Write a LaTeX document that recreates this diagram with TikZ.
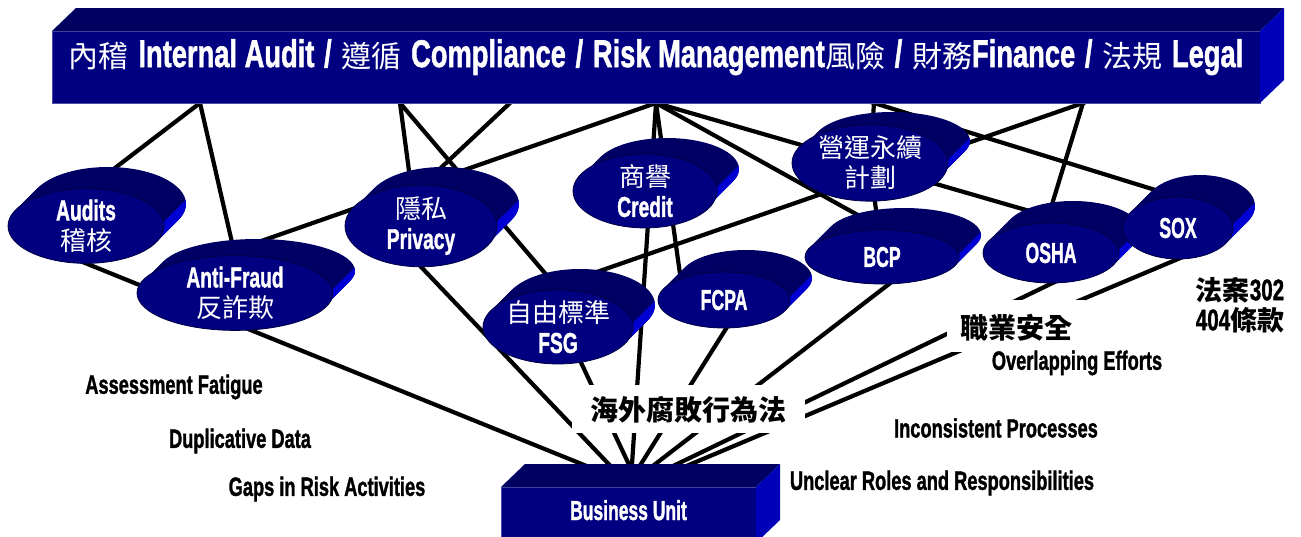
\documentclass[tikz,border=0pt]{standalone}
\usepackage{fontspec}
\setmainfont{Liberation Sans}[BoldFeatures={FakeBold=1.6}]
\newfontfamily\cjk{Noto Sans CJK TC}
\usepackage{graphicx}
\usetikzlibrary{calc,positioning,shapes.geometric,backgrounds}

\definecolor{facefront}{RGB}{0,0,128}
\definecolor{facetop}{RGB}{0,0,96}
\definecolor{faceside}{RGB}{0,0,185}
\definecolor{rimdark}{RGB}{0,0,100}
\definecolor{rimlight}{RGB}{0,0,210}
\definecolor{rimedge}{RGB}{0,0,70}

\newcommand{\cond}[2][0.76]{\scalebox{#1}[1.1]{#2}}
\newcommand{\zh}[1]{{\cjk\mdseries #1}}
\newcommand{\zhb}[1]{{\cjk\bfseries #1}}
\newcommand{\barzh}[1]{{\fontsize{30}{36}\selectfont\cjk\mdseries #1}}

% rim of a flat disk: x, y, x radius, y radius
\newcommand{\diskrim}[4]{%
  \foreach \s in {0,...,11} {
    \fill[rimdark] (#1+2*\s,#2-2*\s) ellipse (#3 and #4);
  }
  \pgfmathsetmacro\tang{atan(#4/#3)}
  \fill[rimlight] (#1,#2) ++(\tang:#3 and #4)
    arc[start angle=\tang, end angle=-6, x radius=#3, y radius=#4] -- ++(22,-22)
    arc[start angle=-6, end angle=\tang, x radius=#3, y radius=#4] -- cycle;
}
% disk node: name, x, y, x radius, y radius, text
\newcommand{\flatdisk}[6]{%
  \diskrim{#2}{#3}{#4}{#5}
  \node[disk, minimum width=2*#4pt, minimum height=2*#5pt] (#1) at (#2,#3) {#6};
}

\tikzset{
  disk/.style={ellipse, fill=facefront, draw=rimedge, line width=0.8pt,
    inner sep=0pt, outer sep=0pt, text=white, align=center,
    font=\bfseries\fontsize{26}{30}\selectfont},
  face/.style={rectangle, fill=facefront, draw=facefront!70!white, line width=0.6pt,
    inner sep=0pt, outer sep=0pt, text=white},
  link/.style={line width=4.2pt, shorten <=-6pt, shorten >=-6pt},
  mask/.style={fill=white, inner sep=0pt, anchor=base,
    font=\fontsize{28}{30}\selectfont},
  issue/.style={inner sep=0pt, font=\bfseries\fontsize{24}{26}\selectfont},
}

\begin{document}
\begin{tikzpicture}[x=1pt, y=-1pt]
  \useasboundingbox (0,0) rectangle (1301,536);

  % Top bar
  \node[face, minimum width=1208pt, minimum height=72pt, text height=20pt, text depth=20pt,
        font=\bfseries\fontsize{35}{40}\selectfont] (bar) at (656,67)
    {\barzh{內稽} \cond[0.78]{Internal Audit} \cond[0.78]{/} \barzh{遵循} \cond[0.78]{Compliance} \cond[0.78]{/} \cond[0.78]{Risk Management}\barzh{風險} \cond[0.78]{/} \barzh{財務}\cond[0.78]{Finance} \cond[0.78]{/} \barzh{法規} \cond[0.78]{Legal}};
  \fill[facetop] (bar.north west) -- ++(24,-23) -- ($(bar.north east)+(24,-23)$) -- (bar.north east) -- cycle;
  \fill[faceside] (bar.north east) -- ++(24,-23) -- ($(bar.south east)+(24,-23)$) -- (bar.south east) -- cycle;
  \foreach \n/\x in {1/200,2/400,3/510,4/656,5/874,6/1083}
    \coordinate (t\n) at (\x,103);

  % Disks
  \flatdisk{audits}{86}{226}{78}{37}{\cond[0.74]{Audits}\\\zh{稽核}}
  \flatdisk{privacy}{421}{226}{76}{37}{\zh{隱私}\\\cond[0.74]{Privacy}}
  \flatdisk{credit}{645}{191}{72}{31}{\zh{商譽}\\\cond[0.74]{Credit}}
  \flatdisk{bcm}{870}{163}{78}{29}{\zh{營運永續}\\\zh{計劃}}
  \flatdisk{antifraud}{235}{293}{98}{32}{\cond[0.74]{Anti-Fraud}\\\zh{反詐欺}}
  \flatdisk{fsg}{558}{327}{75}{36}{\zh{自由標準}\\\cond[0.74]{FSG}}
  \flatdisk{bcp}{882}{257}{77}{27}{\cond[0.68]{BCP}}
  \flatdisk{fcpa}{724}{300}{66}{28}{\cond[0.68]{FCPA}}
  \flatdisk{osha}{1051}{253}{68}{30}{\cond[0.68]{OSHA}}
  \flatdisk{sox}{1178}{228}{55}{31}{\cond[0.68]{SOX}}

  % Business unit box
  \node[face, minimum width=255pt, minimum height=56pt, text height=20pt, text depth=10pt,
        font=\bfseries\fontsize{25}{28}\selectfont] (bu) at (628.5,515) {\cond[0.7]{Business Unit}};
  \fill[facetop] (bu.north west) -- ++(24,-23) -- ($(bu.north east)+(24,-23)$) -- (bu.north east) -- cycle;
  \fill[faceside] (bu.north east) -- ++(24,-23) -- ($(bu.south east)+(24,-23)$) -- (bu.south east) -- cycle;

  % Law labels over the links
  \node[mask, minimum width=233pt, text height=35pt, text depth=13pt] (fcpalaw) at (688.5,420) {\zhb{海外腐敗行為法}};
  \node[mask, minimum width=138pt, text height=38pt, text depth=14pt] (oshalaw) at (1016,338) {\zhb{職業安全}};
  \node[issue, align=center, font=\bfseries\fontsize{27}{30}\selectfont] (soxlaw) at (1240,305)
    {\zhb{法案}\cond{302}\\\cond{404}\zhb{條款}};

  % Issues
  \foreach \nm/\x/\y/\txt in {fatigue/174/387/Assessment Fatigue, dupdata/240/441/Duplicative Data,
      gaps/327/489/Gaps in Risk Activities, overlap/1077/363/Overlapping Efforts,
      inconsist/996/428/Inconsistent Processes, roles/942/483/Unclear Roles and Responsibilities}
    \node[issue] (\nm) at (\x,\y) {\cond{\txt}};

  % Links behind everything
  \begin{pgfonlayer}{background}
    \foreach \a/\b in {t1/audits.87, t1/antifraud.90, t2/privacy.104, t2/fsg.88,
        t3/privacy.88, t4/antifraud.115, t4/fcpa.154, t4/osha.30, t4/bcp.84,
        t5/bcm, t5/sox.north, t6/fsg.113, t6/osha.99, bcm/bcp}
      \draw[link] (\a) -- (\b);
    \draw[link] (t4) -- ([xshift=2pt]bu.north);
    \draw[link] (audits.south) -- ([xshift=10pt]bu.north);
    \draw[link] (privacy.south) -- ([xshift=2pt]bu.north);
    \draw[link] (fsg.-57) -- ([xshift=11pt]bu.north);
    \draw[link] (fcpa.-85) -- ([xshift=-2pt]bu.north);
    \draw[link] (bcp.-75) -- ([xshift=-3pt]bu.north);
    \draw[link] (osha.-87) -- ([xshift=1pt]bu.north);
    \draw[link] (sox.south) -- ([xshift=8pt]bu.north);
  \end{pgfonlayer}
\end{tikzpicture}
\end{document}
